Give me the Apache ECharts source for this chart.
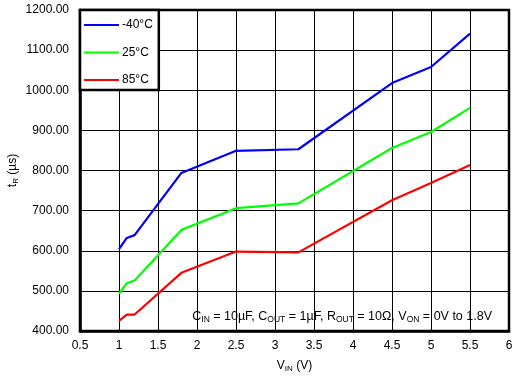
<!DOCTYPE html>
<html><head><meta charset="utf-8">
<script src="https://cdn.jsdelivr.net/npm/echarts@6/dist/echarts.min.js"></script>
<style>html,body{margin:0;padding:0;background:#fff}#c{width:526px;height:389px}</style>
</head><body><div id="c"></div>
<script>
const seriesNames = ['-40°C', '25°C', '85°C'];
const seriesColors = ['#0000ff', '#00ff00', '#ff0000'];
const vinM40 = [1.0, 1.1, 1.2, 1.8, 2.5, 3.3, 4.5, 5.0, 5.5];
const trM40 = [604, 632, 639, 794, 849, 853, 1018, 1058, 1141];
const vin25 = [1.0, 1.1, 1.2, 1.8, 2.5, 3.3, 4.5, 5.0, 5.5];
const tr25 = [493, 519, 526, 652, 706, 718, 856, 896, 956];
const vin85 = [1.0, 1.1, 1.2, 1.8, 2.5, 3.3, 4.5, 5.0, 5.5];
const tr85 = [425, 441, 441, 545, 598, 596, 726, 769, 814];

const xs = [vinM40, vin25, vin85];
const ys = [trM40, tr25, tr85];
const font = 'Liberation Sans, Arial, Helvetica, sans-serif';

const chart = echarts.init(document.getElementById('c'), null, {renderer: 'canvas'});
chart.setOption({
  animation: false,
  backgroundColor: '#fff',
  textStyle: {fontFamily: font},
  grid: {left: 80, right: 17, top: 10, bottom: 58, show: true, borderColor: '#000', borderWidth: 2.5,
    backgroundColor: 'transparent', containLabel: false, outerBoundsMode: 'none'},
  legend: {
    orient: 'vertical', left: 80, top: 10,
    backgroundColor: '#fff', borderColor: '#000', borderWidth: 2.5,
    padding: [9, 6, 4, 4], itemGap: 15.5,
    itemWidth: 35, itemHeight: 2, icon: 'rect',
    textStyle: {fontSize: 12, color: '#000', fontFamily: font, padding: [0, 0, 0, -2]},
    data: seriesNames
  },
  xAxis: {
    type: 'value', min: 0.5, max: 6, interval: 0.5,
    axisLine: {show: true, lineStyle: {color: '#000', width: 2.5}},
    axisTick: {show: false},
    splitLine: {show: true, lineStyle: {color: '#000', width: 1}},
    axisLabel: {color: '#000', fontSize: 12, margin: 9, fontFamily: font,
      formatter: v => String(+v.toFixed(1))},
    name: '{m|V}{s|IN}{m| (V)}', nameLocation: 'middle', nameGap: 28, nameMoveOverlap: false,
    nameTextStyle: {rich: {
      m: {fontSize: 12, color: '#000', fontFamily: font},
      s: {fontSize: 8, color: '#000', fontFamily: font, verticalAlign: 'bottom', padding: [6, 0, 0, 0]}
    }}
  },
  yAxis: {
    type: 'value', min: 400, max: 1200, interval: 100,
    axisLine: {show: true, lineStyle: {color: '#000', width: 2.5}},
    axisTick: {show: false},
    splitLine: {show: true, lineStyle: {color: '#000', width: 1}},
    axisLabel: {color: '#000', fontSize: 12, margin: 11, fontFamily: font,
      formatter: v => v.toFixed(2)},
    name: '{m|t}{s|R}{m| (µs)}', nameLocation: 'middle', nameGap: 60, nameRotate: 90, nameMoveOverlap: false,
    nameTextStyle: {rich: {
      m: {fontSize: 12, color: '#000', fontFamily: font},
      s: {fontSize: 8, color: '#000', fontFamily: font, verticalAlign: 'bottom', padding: [6, 0, 0, 0]}
    }}
  },
  graphic: [{
    type: 'text', right: 34, top: 310, z: 10,
    style: {
      text: '{m|C}{s|IN}{m| = 10µF, C}{s|OUT}{m| = 1µF, R}{s|OUT}{m| = 10Ω, V}{s|ON}{m| = 0V to 1.8V}',
      rich: {
        m: {fontSize: 12.5, fill: '#000', fontFamily: font},
        s: {fontSize: 8.5, fill: '#000', fontFamily: font, verticalAlign: 'bottom', padding: [6, 0, 0, 0]}
      }
    }
  }],
  series: seriesNames.map((n, i) => ({
    name: n, type: 'line', showSymbol: false, symbol: 'none',
    color: seriesColors[i],
    lineStyle: {width: 2.2, color: seriesColors[i]},
    data: xs[i].map((x, j) => [x, ys[i][j]]),
    z: 3
  }))
});
</script></body></html>
